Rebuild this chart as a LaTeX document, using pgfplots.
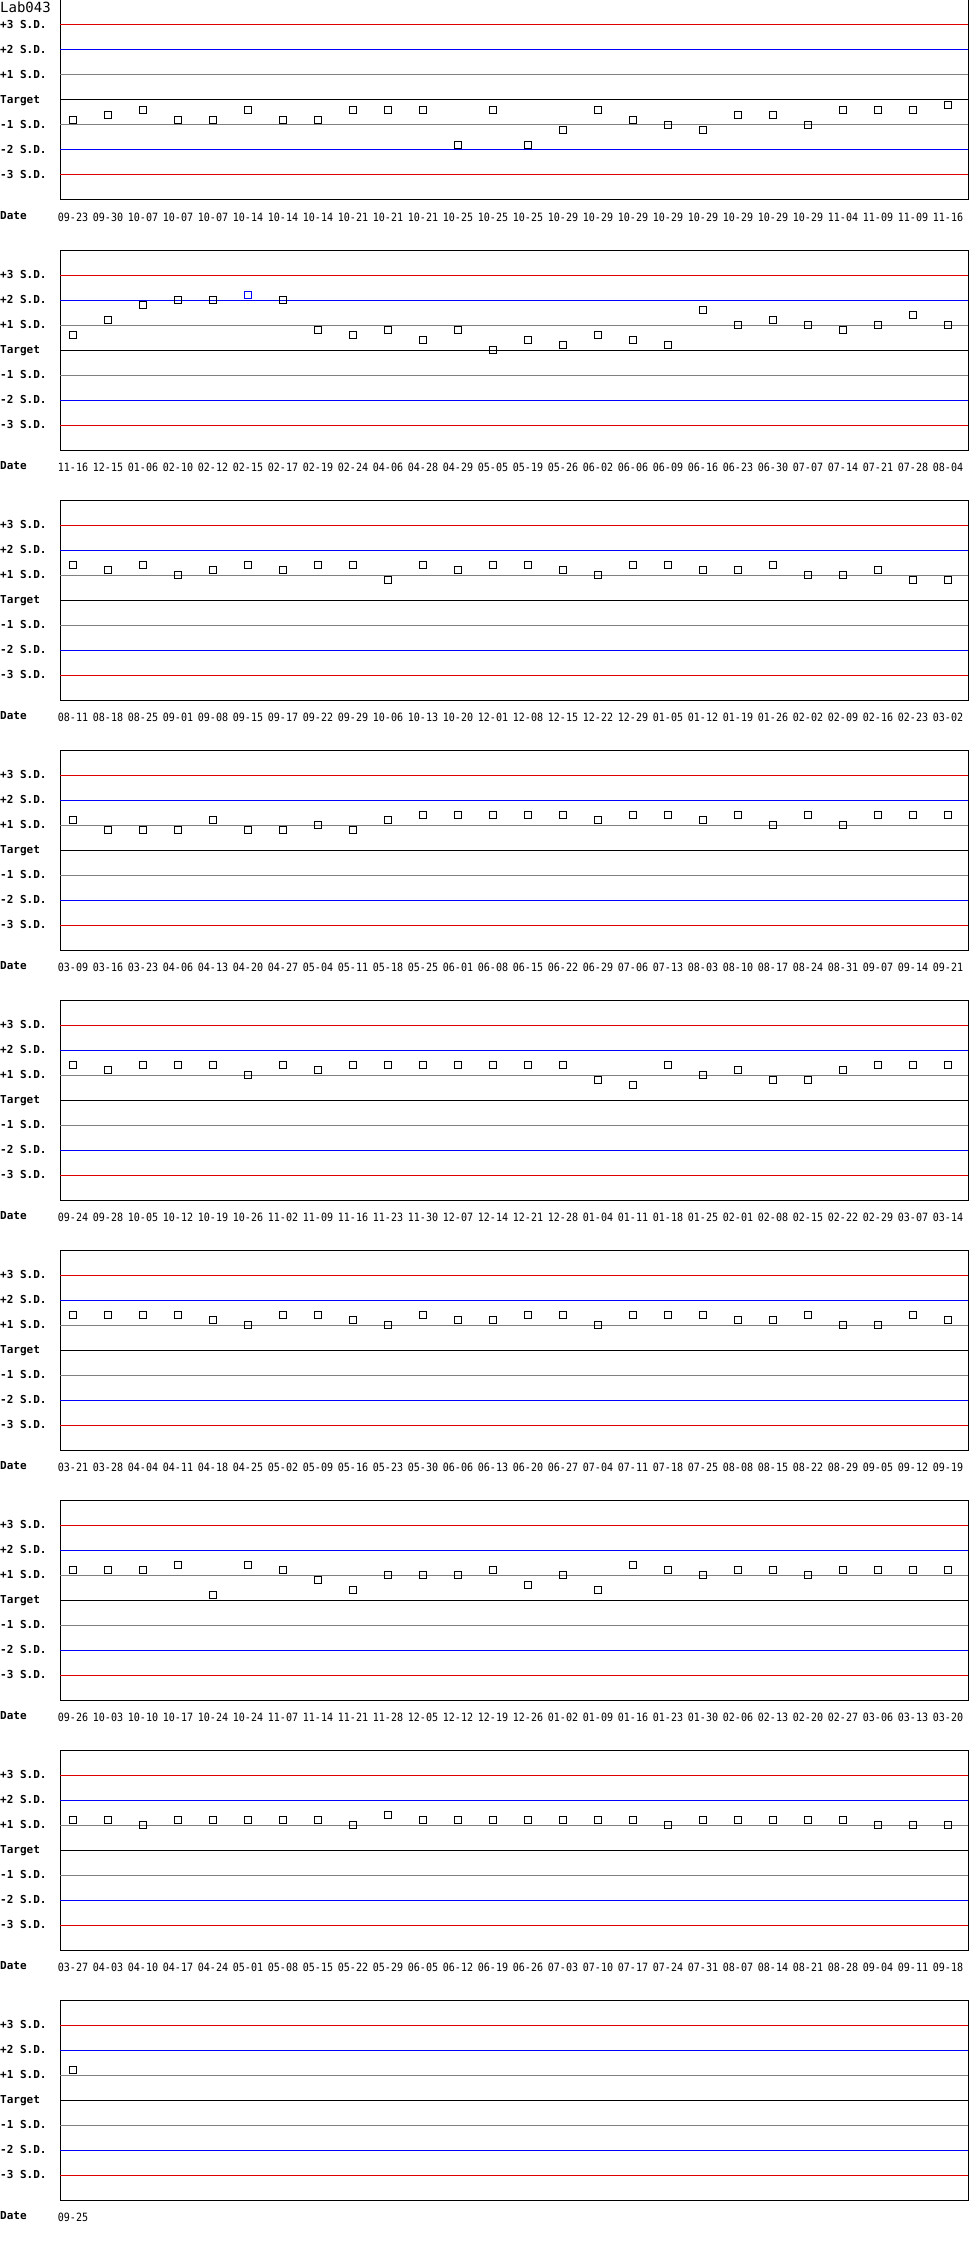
\documentclass[border=0pt]{standalone}
\usepackage{pgfplots}
\pgfplotsset{compat=1.18}
\usepackage{fontspec}
\newfontfamily\qcfont[FakeStretch=0.88]{DejaVu Sans Mono}
\newfontfamily\qclab{DejaVu Sans Mono}

\definecolor{qcred}{RGB}{220,0,0}
\definecolor{qcblue}{RGB}{0,0,255}
\definecolor{qcgray}{RGB}{128,128,128}

% 1px of the reference = 1pt here
\pgfplotsset{qc/.style={
  anchor=north west, scale only axis, width=908pt, height=200pt,
  xmin=-0.3714, xmax=25.5714, ymin=-4, ymax=4,
  axis line style={line width=1pt, black},
  major tick length=0pt,
  ytick={-3,-2,-1,0,1,2,3},
  yticklabels={-3 S.D.,-2 S.D.,-1 S.D.,Target,+1 S.D.,+2 S.D.,+3 S.D.},
  yticklabel style={anchor=base west, inner sep=0pt, xshift=-60pt, yshift=-3.6pt,
    font=\qclab\bfseries\fontsize{11}{12}\selectfont},
  xtick={0,...,25},
  xticklabel style={anchor=base, inner sep=0pt, yshift=-21.5pt,
    font=\qcfont\fontsize{11.4}{12}\selectfont},
  clip=false,
},
qcpt/.style={only marks, mark=square, mark size=3.3pt,
  mark options={solid, line width=1pt, draw=#1, fill=none}, draw=#1},
qcpt/.default=black,
}

\newcommand\qclines{%
  \draw[qcred, line width=1pt] (rel axis cs:0,0.875) -- (rel axis cs:1,0.875);
  \draw[qcblue, line width=1pt] (rel axis cs:0,0.75) -- (rel axis cs:1,0.75);
  \draw[qcgray, line width=1pt] (rel axis cs:0,0.625) -- (rel axis cs:1,0.625);
  \draw[black, line width=1pt] (rel axis cs:0,0.5) -- (rel axis cs:1,0.5);
  \draw[qcgray, line width=1pt] (rel axis cs:0,0.375) -- (rel axis cs:1,0.375);
  \draw[qcblue, line width=1pt] (rel axis cs:0,0.25) -- (rel axis cs:1,0.25);
  \draw[qcred, line width=1pt] (rel axis cs:0,0.125) -- (rel axis cs:1,0.125);
  \node[anchor=base west, inner sep=0pt, xshift=-60pt, yshift=-19.3pt,
    font=\qclab\bfseries\fontsize{11}{12}\selectfont] at (rel axis cs:0,0) {Date};
}

\begin{document}
\begin{tikzpicture}
\path[use as bounding box] (0pt,0pt) rectangle (970pt,-2250pt);

% panel 1
\begin{axis}[qc, at={(60pt,0pt)},
  xticklabels={09-23,09-30,10-07,10-07,10-07,10-14,10-14,10-14,10-21,10-21,10-21,10-25,10-25,10-25,10-29,10-29,10-29,10-29,10-29,10-29,10-29,10-29,11-04,11-09,11-09,11-16}]
\qclines
\node[anchor=base west, inner sep=0pt, xshift=-60pt, yshift=-12.7pt,
  font=\qclab\fontsize{14}{15}\selectfont] at (rel axis cs:0,1) {Lab043};
\addplot[qcpt] coordinates {
  (0,-0.8) (1,-0.6) (2,-0.4) (3,-0.8) (4,-0.8) (5,-0.4) (6,-0.8) (7,-0.8)
  (8,-0.4) (9,-0.4) (10,-0.4) (11,-1.8) (12,-0.4) (13,-1.8) (14,-1.2) (15,-0.4)
  (16,-0.8) (17,-1.0) (18,-1.2) (19,-0.6) (20,-0.6) (21,-1.0) (22,-0.4) (23,-0.4)
  (24,-0.4) (25,-0.2)};
\end{axis}

% panel 2
\begin{axis}[qc, at={(60pt,-250pt)},
  xticklabels={11-16,12-15,01-06,02-10,02-12,02-15,02-17,02-19,02-24,04-06,04-28,04-29,05-05,05-19,05-26,06-02,06-06,06-09,06-16,06-23,06-30,07-07,07-14,07-21,07-28,08-04}]
\qclines
\addplot[qcpt] coordinates {
  (0,0.6) (1,1.2) (2,1.8) (3,2.0) (4,2.0) (6,2.0) (7,0.8)
  (8,0.6) (9,0.8) (10,0.4) (11,0.8) (12,0.0) (13,0.4) (14,0.2) (15,0.6)
  (16,0.4) (17,0.2) (18,1.6) (19,1.0) (20,1.2) (21,1.0) (22,0.8) (23,1.0)
  (24,1.4) (25,1.0)};
\addplot[qcpt=qcblue] coordinates {(5,2.2)};
\end{axis}

% panel 3
\begin{axis}[qc, at={(60pt,-500pt)},
  xticklabels={08-11,08-18,08-25,09-01,09-08,09-15,09-17,09-22,09-29,10-06,10-13,10-20,12-01,12-08,12-15,12-22,12-29,01-05,01-12,01-19,01-26,02-02,02-09,02-16,02-23,03-02}]
\qclines
\addplot[qcpt] coordinates {
  (0,1.4) (1,1.2) (2,1.4) (3,1.0) (4,1.2) (5,1.4) (6,1.2) (7,1.4)
  (8,1.4) (9,0.8) (10,1.4) (11,1.2) (12,1.4) (13,1.4) (14,1.2) (15,1.0)
  (16,1.4) (17,1.4) (18,1.2) (19,1.2) (20,1.4) (21,1.0) (22,1.0) (23,1.2)
  (24,0.8) (25,0.8)};
\end{axis}

% panel 4
\begin{axis}[qc, at={(60pt,-750pt)},
  xticklabels={03-09,03-16,03-23,04-06,04-13,04-20,04-27,05-04,05-11,05-18,05-25,06-01,06-08,06-15,06-22,06-29,07-06,07-13,08-03,08-10,08-17,08-24,08-31,09-07,09-14,09-21}]
\qclines
\addplot[qcpt] coordinates {
  (0,1.2) (1,0.8) (2,0.8) (3,0.8) (4,1.2) (5,0.8) (6,0.8) (7,1.0)
  (8,0.8) (9,1.2) (10,1.4) (11,1.4) (12,1.4) (13,1.4) (14,1.4) (15,1.2)
  (16,1.4) (17,1.4) (18,1.2) (19,1.4) (20,1.0) (21,1.4) (22,1.0) (23,1.4)
  (24,1.4) (25,1.4)};
\end{axis}

% panel 5
\begin{axis}[qc, at={(60pt,-1000pt)},
  xticklabels={09-24,09-28,10-05,10-12,10-19,10-26,11-02,11-09,11-16,11-23,11-30,12-07,12-14,12-21,12-28,01-04,01-11,01-18,01-25,02-01,02-08,02-15,02-22,02-29,03-07,03-14}]
\qclines
\addplot[qcpt] coordinates {
  (0,1.4) (1,1.2) (2,1.4) (3,1.4) (4,1.4) (5,1.0) (6,1.4) (7,1.2)
  (8,1.4) (9,1.4) (10,1.4) (11,1.4) (12,1.4) (13,1.4) (14,1.4) (15,0.8)
  (16,0.6) (17,1.4) (18,1.0) (19,1.2) (20,0.8) (21,0.8) (22,1.2) (23,1.4)
  (24,1.4) (25,1.4)};
\end{axis}

% panel 6
\begin{axis}[qc, at={(60pt,-1250pt)},
  xticklabels={03-21,03-28,04-04,04-11,04-18,04-25,05-02,05-09,05-16,05-23,05-30,06-06,06-13,06-20,06-27,07-04,07-11,07-18,07-25,08-08,08-15,08-22,08-29,09-05,09-12,09-19}]
\qclines
\addplot[qcpt] coordinates {
  (0,1.4) (1,1.4) (2,1.4) (3,1.4) (4,1.2) (5,1.0) (6,1.4) (7,1.4)
  (8,1.2) (9,1.0) (10,1.4) (11,1.2) (12,1.2) (13,1.4) (14,1.4) (15,1.0)
  (16,1.4) (17,1.4) (18,1.4) (19,1.2) (20,1.2) (21,1.4) (22,1.0) (23,1.0)
  (24,1.4) (25,1.2)};
\end{axis}

% panel 7
\begin{axis}[qc, at={(60pt,-1500pt)},
  xticklabels={09-26,10-03,10-10,10-17,10-24,10-24,11-07,11-14,11-21,11-28,12-05,12-12,12-19,12-26,01-02,01-09,01-16,01-23,01-30,02-06,02-13,02-20,02-27,03-06,03-13,03-20}]
\qclines
\addplot[qcpt] coordinates {
  (0,1.2) (1,1.2) (2,1.2) (3,1.4) (4,0.2) (5,1.4) (6,1.2) (7,0.8)
  (8,0.4) (9,1.0) (10,1.0) (11,1.0) (12,1.2) (13,0.6) (14,1.0) (15,0.4)
  (16,1.4) (17,1.2) (18,1.0) (19,1.2) (20,1.2) (21,1.0) (22,1.2) (23,1.2)
  (24,1.2) (25,1.2)};
\end{axis}

% panel 8
\begin{axis}[qc, at={(60pt,-1750pt)},
  xticklabels={03-27,04-03,04-10,04-17,04-24,05-01,05-08,05-15,05-22,05-29,06-05,06-12,06-19,06-26,07-03,07-10,07-17,07-24,07-31,08-07,08-14,08-21,08-28,09-04,09-11,09-18}]
\qclines
\addplot[qcpt] coordinates {
  (0,1.2) (1,1.2) (2,1.0) (3,1.2) (4,1.2) (5,1.2) (6,1.2) (7,1.2)
  (8,1.0) (9,1.4) (10,1.2) (11,1.2) (12,1.2) (13,1.2) (14,1.2) (15,1.2)
  (16,1.2) (17,1.0) (18,1.2) (19,1.2) (20,1.2) (21,1.2) (22,1.2) (23,1.0)
  (24,1.0) (25,1.0)};
\end{axis}

% panel 9
\begin{axis}[qc, at={(60pt,-2000pt)}, xtick={0}, xticklabels={09-25}]
\qclines
\addplot[qcpt] coordinates {(0,1.2)};
\end{axis}
\end{tikzpicture}
\end{document}
